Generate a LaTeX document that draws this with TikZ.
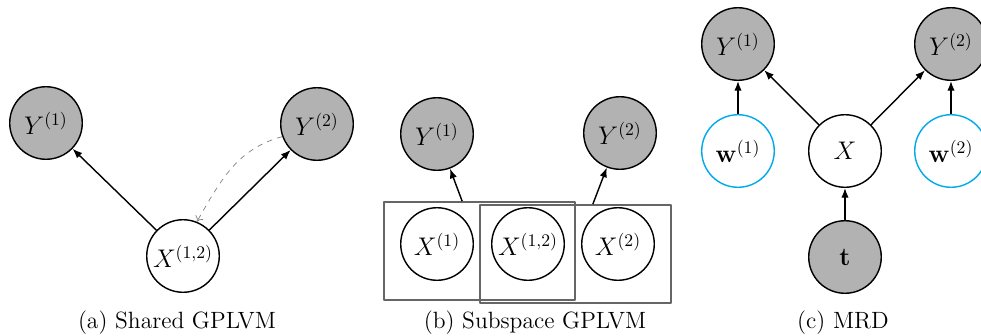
\documentclass[tikz,border=0pt]{standalone}
\usetikzlibrary{fit,calc,arrows.meta}
\definecolor{wblue}{RGB}{0,170,235}
\begin{document}
\begin{tikzpicture}[x=0.565pt,y=-0.565pt,>={Latex[length=5.5pt,width=4.2pt]},line join=round,
	latent/.style={circle,draw,thick,minimum size=41pt,inner sep=0pt,font=\Large},
	obs/.style={latent,fill=gray!60},
	param/.style={latent,draw=wblue},
	plate/.style={draw=black!60,line width=0.9pt,rectangle,inner sep=0pt,minimum width=108pt,minimum height=55.4pt},
	edge/.style={->,thick},
	caption/.style={font=\fontsize{13.3}{16}\selectfont}]
	\useasboundingbox (0,0) rectangle (981,335);
	% (a)
	\node[obs] (ay1) at (46,123) {$Y^{(1)}$};
	\node[obs] (ay2) at (317,124) {$Y^{(2)}$};
	\node[latent] (ax) at (183,256) {$X^{(1,2)}$};
	\draw[edge] (ax)--(ay1);
	\draw[edge] (ax)--(ay2);
	\draw[-{To[length=3pt,width=5pt]},dashed,black!50] (ay2.200) to[out=195,in=60] (ax.68);
	\node[caption] (capa) at (177,323) {(a) Shared GPLVM};
	% (b)
	\node[obs] (by1) at (437,134) {$Y^{(1)}$};
	\node[obs] (by2) at (620,133) {$Y^{(2)}$};
	\node[latent] (bx1) at (437,244) {$X^{(1)}$};
	\node[latent] (bx12) at (528,244) {$X^{(1,2)}$};
	\node[latent] (bx2) at (618,244) {$X^{(2)}$};
	\node[plate] (p1) at (479.5,251) {};
	\node[plate] (p2) at (575.5,254) {};
	\draw[edge] ($(p1.north west)!.41!(p1.north east)$)--(by1);
	\draw[edge] ($(p2.north west)!.59!(p2.north east)$)--(by2);
	\node[caption] (capb) at (535,323) {(b) Subspace GPLVM};
	% (c)
	\node[obs] (cy1) at (738,44) {$Y^{(1)}$};
	\node[obs] (cy2) at (951,44) {$Y^{(2)}$};
	\node[param] (cw1) at (738,151) {$\mathbf{w}^{(1)}$};
	\node[latent] (cx) at (845,151) {$X$};
	\node[param] (cw2) at (951,151) {$\mathbf{w}^{(2)}$};
	\node[obs] (ct) at (845,257) {$\mathbf{t}$};
	\draw[edge] (cw1)--(cy1);
	\draw[edge] (cx)--(cy1);
	\draw[edge] (cx)--(cy2);
	\draw[edge] (cw2)--(cy2);
	\draw[edge] (ct)--(cx);
	\node[caption] (capc) at (843,323) {(c) MRD};
\end{tikzpicture}
\end{document}
